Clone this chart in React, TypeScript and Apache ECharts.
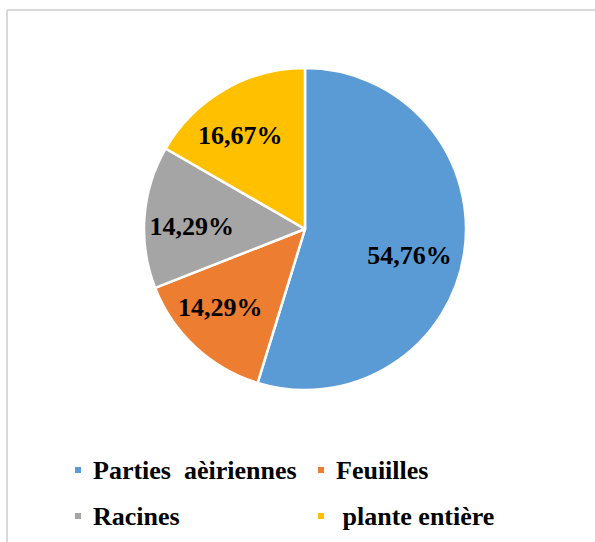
import React, { useEffect, useRef } from "react";
import * as echarts from "echarts";

const categories = ["Parties  aèiriennes", "Feuiilles", "Racines", " plante entière"];
const values = [54.76, 14.29, 14.29, 16.67];
const labels = ["54,76%", "14,29%", "14,29%", "16,67%"];
const colors = ["#5B9BD5", "#ED7D31", "#A5A5A5", "#FFC000"];

export default function App() {
  const ref = useRef<HTMLDivElement>(null);
  useEffect(() => {
    if (!ref.current) return;
    const chart = echarts.init(ref.current, null, { renderer: "svg" });
    const offsets = [[22, 14], [-28, 17], [-30, 4], [-23, -21]];
    const font = "'Liberation Serif', 'Times New Roman', serif";
    const legendBase = {
      orient: "vertical",
      top: 457,
      padding: 0,
      itemWidth: 8,
      itemHeight: 8,
      itemGap: 20,
      icon: "rect",
      selectedMode: false,
      textStyle: { fontFamily: font, fontWeight: "bold", fontSize: 26, color: "#000", padding: [0, 0, 0, 6] },
    };
    chart.setOption({
      animation: false,
      backgroundColor: "#ffffff",
      graphic: [
        { type: "line", shape: { x1: 7, y1: 10, x2: 600, y2: 10 }, style: { stroke: "#d9d9d9", lineWidth: 2 } },
        { type: "line", shape: { x1: 7, y1: 10, x2: 7, y2: 560 }, style: { stroke: "#d9d9d9", lineWidth: 2 } },
      ],
      legend: [
        { ...legendBase, data: [categories[0], categories[2]], left: 73 },
        { ...legendBase, data: [categories[1], categories[3]], left: 316 },
      ],
      series: [
        {
          type: "pie",
          center: [305, 229],
          radius: [0, 161],
          startAngle: 90,
          clockwise: true,
          itemStyle: { borderColor: "#ffffff", borderWidth: 2.5 },
          labelLine: { show: false },
          emphasis: { disabled: true },
          data: categories.map((c, i) => ({
            name: c,
            value: values[i],
            itemStyle: { color: colors[i] },
            label: {
              show: true,
              position: "inside",
              formatter: labels[i],
              offset: offsets[i],
              fontFamily: font,
              fontWeight: "bold",
              fontSize: 26,
              color: "#000",
            },
          })),
        },
      ],
    });
    return () => chart.dispose();
  }, []);
  return <div ref={ref} style={{ position: "fixed", left: 0, top: 0, width: 595, height: 542 }} />;
}
